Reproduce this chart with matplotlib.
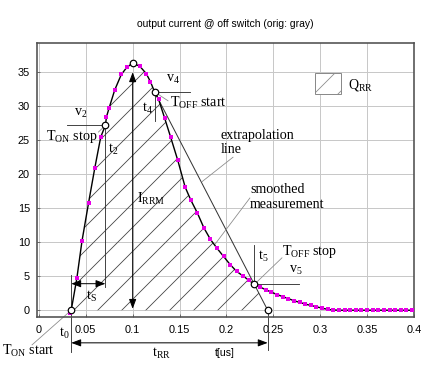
import numpy as np
import matplotlib as mp
mp.use('Agg')
import matplotlib.pyplot as plt
from matplotlib.patches import Patch

plt.rcParams['font.family'] = 'Liberation Sans'
plt.rcParams['mathtext.fontset'] = 'custom'
plt.rcParams['mathtext.rm'] = 'Liberation Serif'
plt.rcParams['mathtext.it'] = 'Liberation Serif:italic'
plt.rcParams['mathtext.default'] = 'rm'
plt.rcParams['hatch.linewidth'] = 0.8

# smoothed measurement (magenta samples), t in us, i in A
t_meas = [0.0333, 0.0345, 0.0405, 0.046, 0.053, 0.0596, 0.066, 0.071, 0.072,
          0.0748, 0.0809, 0.088, 0.0943, 0.1, 0.1075, 0.1145, 0.119, 0.1234,
          0.1277, 0.134, 0.1404, 0.148, 0.156, 0.162, 0.169, 0.176, 0.183,
          0.19, 0.197, 0.204, 0.211, 0.218, 0.224, 0.2298, 0.236, 0.242,
          0.248, 0.254, 0.26, 0.266, 0.272, 0.278, 0.284, 0.29, 0.296, 0.302,
          0.308, 0.314, 0.32, 0.326, 0.332, 0.338, 0.344, 0.35, 0.356, 0.362,
          0.368, 0.374, 0.38, 0.386, 0.392, 0.398]
i_meas = [-0.4, 0.0, 4.7, 10.2, 15.8, 20.9, 25.5, 27.2, 28.4,
          29.7, 32.4, 34.7, 35.8, 36.3, 35.9, 34.8, 33.6, 32.1,
          31.0, 28.3, 25.5, 22.1, 18.1, 16.2, 14.3, 12.1, 10.4,
          9.1, 7.9, 6.7, 5.7, 5.0, 4.4, 3.8, 3.4, 3.0,
          2.65, 2.3, 2.0, 1.7, 1.4, 1.15, 0.9, 0.7, 0.5, 0.3,
          0.12, 0.03, 0.0, 0.0, 0.0, 0.0, 0.0, 0.0, 0.0, 0.0,
          0.0, 0.0, 0.0, 0.0, 0.0, 0.0]

# characteristic points: t0, t2, peak, t4, t5, extrapolation end
t_key = [0.0345, 0.071, 0.1, 0.1234, 0.2298, 0.244]
i_key = [0.0, 27.2, 36.3, 32.1, 3.8, 0.0]

x_ticks = [0, 0.05, 0.1, 0.15, 0.2, 0.25, 0.3, 0.35, 0.4]
x_labels = ['0', '0.05', '0.1', '0.15', '0.2', '0.25', '0.3', '0.35', '0.4']
y_ticks = [0, 5, 10, 15, 20, 25, 30, 35]

t0, t2, tp, t4, t5, te = t_key
i0, i2, ip, i4, i5, ie = i_key

fig = plt.figure(figsize=(6, 366 / 72.), dpi=72)
ax = fig.add_axes([37 / 432., 49 / 366., 377 / 432., 274 / 366.])
ax.set_xlim(-0.002, 0.4)
ax.set_ylim(-1.0, 39.3)
ax.set_xticks(x_ticks)
ax.set_xticklabels(x_labels)
ax.set_yticks(y_ticks)
ax.grid(True, color='#c8c8c8', lw=1.0)
ax.set_axisbelow(True)
for s in ax.spines.values():
    s.set_color('#505050')
    s.set_linewidth(1.6)
ax.tick_params(direction='in', length=3, width=0.8, color='#555', labelsize=11)
ax.tick_params(axis='x', pad=8)
ax.tick_params(axis='y', pad=7)
ax.set_title('output current @ off switch (orig: gray)', fontsize=10.4, pad=16)

# Q_RR area: measured curve up to t5, then extrapolation line
tm = np.array(t_meas)
im = np.array(i_meas)
sel = (tm > t0) & (tm < t5)
qt = np.concatenate([[t0], tm[sel], [t5, te]])
qi = np.concatenate([[i0], im[sel], [i5, ie]])
ax.fill(qt, qi, facecolor='none', edgecolor='#404040', lw=0, hatch='/', zorder=1)

# extrapolation line v4 -> end
ax.plot([t4, te], [i4, ie], color='#333333', lw=1.0, zorder=2)

# measured curve
ax.plot(t_meas, i_meas, color='k', lw=1.4, zorder=3)
ax.plot(t_meas, i_meas, ls='none', marker='s', ms=3.4, mew=0,
        color='#e600e6', zorder=4)

serif = 'Liberation Serif'
ref = dict(color='#333333', lw=0.9, zorder=2, clip_on=False)
lead = dict(color='#8a8a8a', lw=0.8, zorder=2, clip_on=False)

# reference lines
ax.plot([0.030, t2], [i2, i2], **ref)                 # v2
ax.plot([t2, 0.0635], [i2, 26.2], **lead)             # T_ON stop
ax.plot([t2, t2], [i2, 3.4], **ref)                   # t2
ax.plot([t0, t0], [5.2, -6.1], **ref)                 # T_ON start
ax.plot([-0.0073, t0], [-5.1, i0], **lead)
ax.plot([t4, 0.161], [i4, i4], **ref)                 # v4
ax.plot([t4, 0.1377], [i4, 30.8], **lead)             # T_OFF start
ax.plot([t4, t4], [i4, 27.8], **ref)                  # t4
ax.plot([0.1739, 0.207], [18.9, 22.5], **lead)        # extrapolation
ax.plot([0.1878, 0.225], [9.7, 16.5], **lead)         # smoothed
ax.plot([t5, t5], [i5, 9.6], **ref)                   # t5
ax.plot([t5, 0.2774], [i5, i5], **ref)                # v5
ax.plot([t5, 0.2592], [i5, 7.7], **lead)              # T_OFF stop
ax.plot([te, te], [ie, -5.85], **ref)                 # end

arr = dict(arrowstyle='<|-|>,head_length=0.8,head_width=0.3', color='k',
           lw=1.0, shrinkA=0, shrinkB=0)
ax.annotate('', xy=(tp, 35.0), xytext=(tp, 0.2), arrowprops=arr, zorder=5)
ax.annotate('', xy=(t0, 3.9), xytext=(t2, 3.9), arrowprops=arr, zorder=5)
ax.annotate('', xy=(t0, -4.8), xytext=(te, -4.8), arrowprops=arr,
            annotation_clip=False, zorder=5)

# key points
ax.plot(t_key, i_key, ls='none', marker='o', ms=6.5, mfc='white', mec='k',
        mew=1.2, zorder=6, clip_on=False)

txt = dict(family=serif, fontsize=14, va='baseline', ha='left')
ax.text(0.0375, 28.6, r'v$_2$', **txt)
ax.text(0.0076, 25.0, r'T$_{ON}$ stop', **txt)
ax.text(0.0737, 23.1, r't$_2$', **txt)
ax.text(0.1356, 33.6, r'v$_4$', **txt)
ax.text(0.1398, 29.9, r'T$_{OFF}$ start', **txt)
ax.text(0.110, 29.2, r't$_4$', **txt)
ax.text(0.1046, 15.8, r'I$_{RRM}$', **txt)
ax.text(0.1942, 23.1, 'extrapolation\nline', linespacing=1.12, **txt)
ax.text(0.2251, 15.1, 'smoothed\nmeasurement', linespacing=1.12, **txt)
ax.text(0.2337, 7.4, r't$_5$', **txt)
ax.text(0.2592, 8.1, r'T$_{OFF}$ stop', **txt)
ax.text(0.2667, 5.5, r'v$_5$', **txt)
ax.text(0.0502, 1.5, r't$_S$', **txt)
ax.text(0.0215, -3.94, r't$_0$', clip_on=False, **txt)
ax.text(-0.0393, -6.6, r'T$_{ON}$ start', clip_on=False, **txt)
ax.text(0.1206, -6.9, r't$_{RR}$', clip_on=False, **txt)
ax.text(0.1878, -6.7, 't[us]', family='Liberation Sans', fontsize=10.5,
        va='baseline', ha='left', clip_on=False)

qrr = Patch(facecolor='white', edgecolor='#8a8a8a', hatch='/', lw=1.0)
ax.legend(handles=[qrr], labels=[r'Q$_{RR}$'], loc='upper left',
          bbox_to_anchor=(0.737, 0.889), frameon=False, borderpad=0,
          borderaxespad=0, handlelength=1.85, handleheight=1.85,
          handletextpad=0.5, prop={'family': serif, 'size': 14})

plt.savefig('out.png', dpi=72)
